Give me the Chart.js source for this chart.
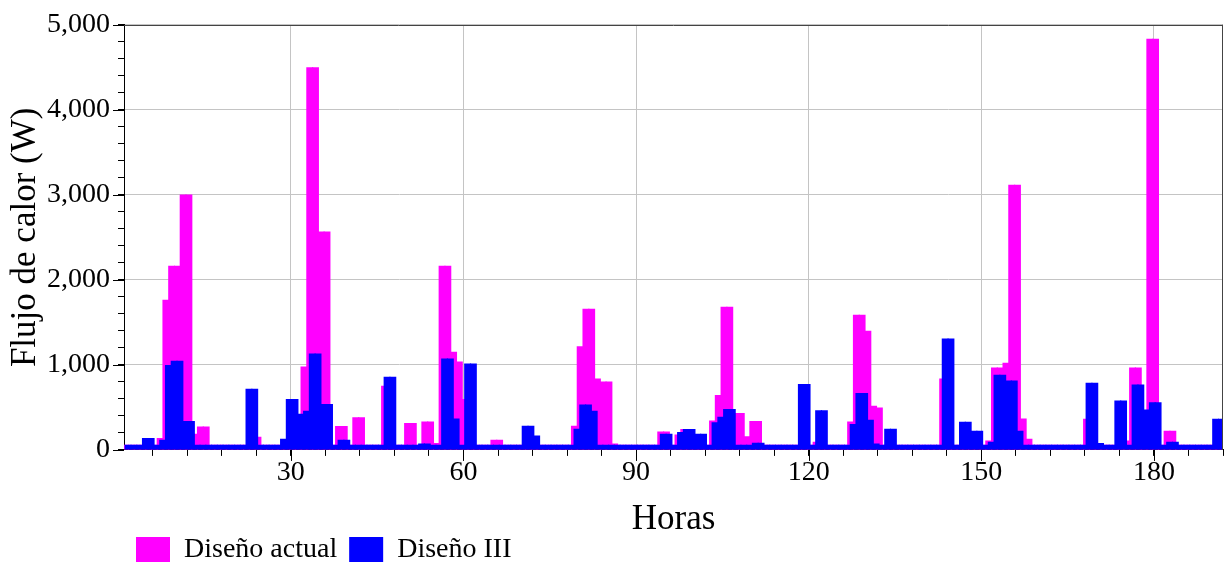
<!DOCTYPE html>
<html>
<head>
<meta charset="utf-8">
<script src="https://cdn.jsdelivr.net/npm/chart.js@4.4.1/dist/chart.umd.min.js"></script>
<style>
  html, body { margin: 0; padding: 0; background: #fff; }
  #wrap { width: 1225px; height: 562px; }
</style>
</head>
<body>
<div id="wrap"><canvas id="chart"></canvas></div>
<script>
// hourly heat flow (W), hours 1..191
const hours = Array.from({length: 191}, (_, i) => i + 1);

const disenoActual = [
  60, 60, 60, 60, 60, 60, 140, 1765, 2165, 2165,
  3005, 3005, 190, 275, 275, 60, 60, 60, 60, 60,
  60, 60, 60, 155, 60, 60, 60, 60, 60, 60,
  60, 980, 4500, 4500, 2570, 2570, 60, 280, 280, 60,
  385, 385, 60, 60, 60, 755, 60, 60, 60, 315,
  315, 60, 335, 335, 80, 2165, 2165, 1155, 1040, 600,
  60, 60, 60, 60, 120, 120, 60, 60, 60, 60,
  60, 60, 60, 60, 60, 60, 60, 60, 285, 1220,
  1660, 1660, 840, 805, 805, 75, 60, 60, 60, 60,
  60, 60, 60, 215, 215, 60, 180, 245, 245, 60,
  60, 60, 345, 645, 1685, 1685, 435, 435, 160, 340,
  340, 60, 60, 60, 60, 60, 60, 60, 60, 60,
  95, 60, 60, 60, 60, 60, 335, 1590, 1590, 1400,
  520, 500, 60, 60, 60, 60, 60, 60, 60, 60,
  60, 60, 840, 60, 60, 60, 60, 60, 60, 60,
  110, 970, 970, 1025, 3120, 3120, 370, 130, 60, 60,
  60, 60, 60, 60, 60, 60, 60, 365, 60, 60,
  60, 60, 60, 60, 110, 970, 970, 470, 4835, 4835,
  60, 225, 225, 60, 60, 60, 60, 60, 60, 60,
  60
];

const disenoIII = [
  60, 60, 60, 140, 140, 60, 120, 1000, 1050, 1050,
  340, 340, 60, 60, 60, 60, 60, 60, 60, 60,
  60, 720, 720, 60, 60, 60, 60, 130, 600, 600,
  425, 460, 1135, 1135, 540, 540, 60, 120, 120, 60,
  60, 60, 60, 60, 60, 860, 860, 60, 60, 60,
  60, 75, 75, 60, 60, 1075, 1075, 370, 60, 1015,
  1015, 60, 60, 60, 60, 60, 60, 60, 60, 285,
  285, 170, 60, 60, 60, 60, 60, 60, 250, 535,
  535, 460, 60, 60, 60, 60, 60, 60, 60, 60,
  60, 60, 60, 190, 190, 60, 210, 245, 245, 190,
  190, 60, 325, 390, 480, 480, 60, 60, 60, 85,
  85, 60, 60, 60, 60, 60, 60, 775, 775, 60,
  465, 465, 60, 60, 60, 60, 305, 670, 670, 355,
  75, 60, 250, 250, 60, 60, 60, 60, 60, 60,
  60, 60, 1310, 1310, 60, 330, 330, 225, 225, 60,
  95, 885, 885, 815, 815, 225, 60, 60, 60, 60,
  60, 60, 60, 60, 60, 60, 60, 790, 790, 80,
  60, 60, 580, 580, 60, 770, 770, 475, 560, 560,
  60, 95, 95, 60, 60, 60, 60, 60, 60, 365,
  365
];

const FONT = '"Liberation Serif", "Times New Roman", serif';

// bars span the hour: centre at h + 0.5
function toPoints(values) {
  return values.map((v, i) => ({x: hours[i] + 0.5, y: v}));
}

// blue drawn over magenta, frame and long major ticks
const overlay = {
  id: 'overlay',
  beforeDatasetDraw(chart, args) {
    if (args.index === 1) return false;
  },
  afterDatasetsDraw(chart) {
    const {ctx, chartArea: a} = chart;
    ctx.save();
    ctx.beginPath();
    ctx.rect(a.left, a.top, a.right - a.left, a.bottom - a.top);
    ctx.clip();
    chart.getDatasetMeta(1).controller.draw();
    ctx.restore();
  },
  afterDraw(chart) {
    const {ctx, chartArea: a, scales} = chart;
    ctx.save();
    ctx.lineWidth = 1;
    ctx.strokeStyle = '#000';
    ctx.beginPath();
    scales.x.ticks.forEach(t => {
      if (t.value % 30 === 0) {
        const px = Math.round(scales.x.getPixelForValue(t.value)) + 0.5;
        ctx.moveTo(px, a.bottom);
        ctx.lineTo(px, a.bottom + 11);
      }
    });
    scales.y.ticks.forEach(t => {
      if (t.value % 1000 === 0) {
        const py = Math.round(scales.y.getPixelForValue(t.value)) + 0.5;
        ctx.moveTo(a.left - 11, py);
        ctx.lineTo(a.left, py);
      }
    });
    ctx.stroke();
    ctx.strokeStyle = '#444';
    ctx.beginPath();
    ctx.moveTo(a.left, Math.round(a.top) + 0.5);
    ctx.lineTo(a.right, Math.round(a.top) + 0.5);
    ctx.moveTo(Math.round(a.right) - 0.5, a.top);
    ctx.lineTo(Math.round(a.right) - 0.5, a.bottom);
    ctx.stroke();
    ctx.restore();
  }
};

new Chart(document.getElementById('chart'), {
  type: 'bar',
  data: {
    datasets: [{
      label: 'Diseño actual',
      data: toPoints(disenoActual),
      backgroundColor: '#ff00ff',
      borderWidth: 0,
      clip: 0,
      categoryPercentage: 0.88,
      barPercentage: 2.73
    }, {
      label: 'Diseño III',
      data: toPoints(disenoIII),
      backgroundColor: '#0000ff',
      borderWidth: 0,
      clip: 0,
      categoryPercentage: 0.88,
      barPercentage: 2.73
    }]
  },
  options: {
    responsive: true,
    maintainAspectRatio: false,
    animation: false,
    layout: { padding: { left: 5, right: 2, top: 12, bottom: -11.5 } },
    plugins: {
      tooltip: { enabled: false },
      legend: {
        position: 'bottom',
        align: 'start',
        fullSize: false,
        labels: {
          boxWidth: 34,
          boxHeight: 25,
          padding: 12,
          color: '#000',
          font: { family: FONT, size: 28 }
        }
      }
    },
    scales: {
      x: {
        type: 'linear',
        min: 1,
        max: 192,
        offset: false,
        grid: {
          offset: false,
          color: c => c.tick && c.tick.value % 30 === 0 ? '#c4c4c4' : 'rgba(0,0,0,0)',
          tickColor: '#000',
          tickLength: 6
        },
        border: { color: '#000' },
        ticks: {
          stepSize: 6,
          includeBounds: false,
          autoSkip: false,
          maxRotation: 0,
          padding: 0,
          color: '#000',
          font: { family: FONT, size: 28 },
          callback: v => v % 30 === 0 ? v : ''
        },
        title: {
          display: true,
          text: 'Horas',
          color: '#000',
          font: { family: FONT, size: 35 },
          padding: { top: 9, bottom: -17 }
        }
      },
      y: {
        min: 0,
        max: 5000,
        afterFit: scale => { scale.width = 119; },
        grid: {
          color: c => c.tick && c.tick.value % 1000 === 0 ? '#c4c4c4' : 'rgba(0,0,0,0)',
          tickColor: '#000',
          tickLength: 6
        },
        border: { color: '#000' },
        ticks: {
          stepSize: 200,
          autoSkip: false,
          padding: 8,
          color: '#000',
          font: { family: FONT, size: 28 },
          callback: v => v % 1000 === 0 ? v.toLocaleString('en-US') : ''
        },
        title: {
          display: true,
          text: 'Flujo de calor (W)',
          color: '#000',
          font: { family: FONT, size: 35 },
          padding: { top: 0, bottom: 0 }
        }
      }
    }
  },
  plugins: [overlay]
});
</script>
</body>
</html>
